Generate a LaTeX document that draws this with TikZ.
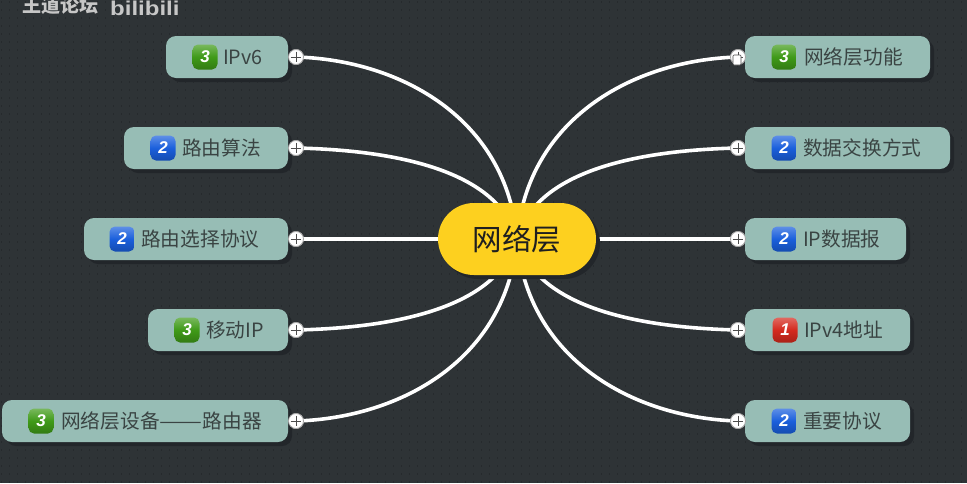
\documentclass[tikz,border=0pt]{standalone}
\usepackage{fontspec}
\setmainfont{Noto Sans CJK SC}
\newfontfamily\badgefont[BoldItalicFont={Liberation Sans Bold Italic}]{Liberation Sans}
\definecolor{bgc}{HTML}{2E3336}
\definecolor{dotc}{HTML}{262A2D}
\definecolor{nodec}{HTML}{97BDB5}
\definecolor{txtc}{HTML}{3A4443}
\definecolor{corec}{HTML}{FDD01F}
\definecolor{shc}{HTML}{22262A}
\tikzset{
  topic/.style={fill=nodec,draw=none,rounded corners=10pt,inner sep=0pt,minimum height=42pt},
  shade box/.style={fill=shc,rounded corners=10pt},
  core/.style={fill=corec,rounded corners=36pt,minimum width=158pt,minimum height=72pt,inner sep=0pt,font=\fontsize{29.5}{30}\selectfont,text=black!88},
  label/.style={anchor=west,inner sep=0pt,font=\fontsize{19.7}{20}\selectfont,text=txtc},
  badge/.style={rounded corners=5.5pt,minimum width=25pt,minimum height=25pt,inner sep=0pt,top color=#1!70!white,bottom color=#1!80!black,middle color=#1,text=white,font=\badgefont\bfseries\itshape\fontsize{17}{17}\selectfont},
  expander/.style={circle,fill=white,draw=gray!70,line width=.8pt,minimum size=15pt,inner sep=0pt},
  link/.style={draw=white,line width=3.6pt},
  wm/.style={inner sep=0pt,text=white!78!black}
}
\definecolor{gbadge}{HTML}{3F9A18}
\definecolor{bbadge}{HTML}{1A5FDC}
\definecolor{rbadge}{HTML}{D42A1E}
% #1 name, #2 left x, #3 right x, #4 y, #5 badge x, #6 text x, #7 colour, #8 number, #9 text
\newcommand{\topicnode}[9]{%
  \fill[shade box] (#2+4,#4-17) rectangle (#3+4,#4+25);
  \node[topic,minimum width=#3pt-#2pt] (#1) at ({(#2+#3)/2},#4) {};
  \node[badge=#7] (#1b) at (#5,#4) {#8};
  \node[label] (#1t) at (#6,#4) {#9};
}
\begin{document}
\begin{tikzpicture}[x=1pt,y=-1pt]
\useasboundingbox (0,0) rectangle (967,483);
\begin{scope}
\clip (0,0) rectangle (967,483);
\fill[bgc] (0,0) rectangle (967,483);
\foreach \yy in {2,10,...,482}{
  \draw[dotc,line width=1.2pt,dash pattern=on 1.2pt off 6.8pt] (1,\yy) -- (967,\yy);
}
% watermark
\node[wm,anchor=west,font=\bfseries\fontsize{19}{19}\selectfont] (wma) at (22,5) {王道论坛};
\node[wm,anchor=west,font=\badgefont\bfseries\fontsize{20}{20}\selectfont] (wmb) at (110,8) {\scalebox{1.2}[1]{bilibili}};

\coordinate (hub) at (517,239);

\node[expander] (e1) at (296,57) {};
\node[expander] (e2) at (296,148) {};
\node[expander] (e3) at (296,239) {};
\node[expander] (e4) at (296,330) {};
\node[expander] (e5) at (296,421) {};
\node[expander] (f1) at (738,57) {};
\node[expander] (f2) at (738,148) {};
\node[expander] (f3) at (738,239) {};
\node[expander] (f4) at (738,330) {};
\node[expander] (f5) at (738,421) {};

\draw[link] (e1.center) .. controls +(105,3) and +(-10,-120) .. (hub);
\draw[link] (e2.center) .. controls +(90,2) and +(-20,-72) .. (hub);
\draw[link] (e3.center) -- (hub);
\draw[link] (e4.center) .. controls +(90,-2) and +(-20,72) .. (hub);
\draw[link] (e5.center) .. controls +(105,-3) and +(-10,120) .. (hub);
\draw[link] (f1.center) .. controls +(-105,3) and +(10,-120) .. (hub);
\draw[link] (f2.center) .. controls +(-90,2) and +(20,-72) .. (hub);
\draw[link] (f3.center) -- (hub);
\draw[link] (f4.center) .. controls +(-90,-2) and +(20,72) .. (hub);
\draw[link] (f5.center) .. controls +(-105,-3) and +(10,120) .. (hub);

\fill[shc,rounded corners=36pt] (442,207) rectangle (600,279);
\node[core] (c) at (517,239) {网络层};

\topicnode{a}{166}{288}{57}{205}{223}{gbadge}{3}{IPv6}
\topicnode{b}{124}{288}{148}{163}{182}{bbadge}{2}{路由算法}
\topicnode{d}{84}{288}{239}{122}{141}{bbadge}{2}{路由选择协议}
\topicnode{g}{148}{288}{330}{187}{206}{gbadge}{3}{移动IP}
\topicnode{h}{2}{288}{421}{41}{61}{gbadge}{3}{网络层设备\scalebox{1.3}[1]{——}路由器}
\topicnode{p}{745}{930}{57}{784}{804}{gbadge}{3}{网络层功能}
\topicnode{q}{745}{950}{148}{784}{803}{bbadge}{2}{数据交换方式}
\topicnode{r}{745}{906}{239}{784}{803}{bbadge}{2}{IP数据报}
\topicnode{s}{745}{910}{330}{785}{804}{rbadge}{1}{IPv4地址}
\topicnode{t}{745}{910}{421}{784}{803}{bbadge}{2}{重要协议}

\foreach \n in {e1,e2,e3,e4,e5,f1,f2,f3,f4,f5}{
  \node[expander] (\n x) at (\n) {};
  \draw[gray!60!black,line width=.9pt] ([xshift=2.5pt]\n x.west) -- ([xshift=-2.5pt]\n x.east) ([yshift=-2.5pt]\n x.north) -- ([yshift=2.5pt]\n x.south);
}
% mouse pointer over the first expander
\draw[black!70,fill=white,line width=.6pt,rounded corners=1pt] (733,55) rectangle (741,65);
\end{scope}
\end{tikzpicture}
\end{document}
